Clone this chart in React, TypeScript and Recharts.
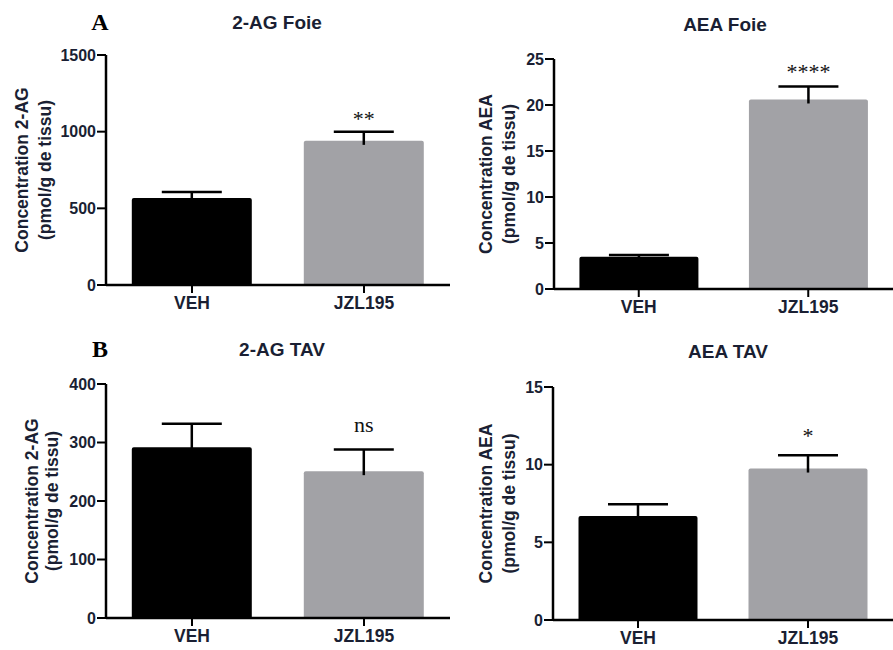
import { BarChart, Bar, XAxis, YAxis, Cell, LabelList, Label } from 'recharts'

// groups and measured values (mean, upper SEM)
const groups = ['VEH', 'JZL195']
const barColors = ['#000000', '#a2a2a6']

const ag2Foie = [567, 940]
const ag2FoieErr = [40, 60]
const ag2FoieSig = ['', '**']
const ag2FoieTicks = [0, 500, 1000, 1500]

const aeaFoie = [3.5, 20.6]
const aeaFoieErr = [0.2, 1.4]
const aeaFoieSig = ['', '****']
const aeaFoieTicks = [0, 5, 10, 15, 20, 25]

const ag2Tav = [292, 251]
const ag2TavErr = [40, 37]
const ag2TavSig = ['', 'ns']
const ag2TavTicks = [0, 100, 200, 300, 400]

const aeaTav = [6.7, 9.75]
const aeaTavErr = [0.75, 0.85]
const aeaTavSig = ['', '*']
const aeaTavTicks = [0, 5, 10, 15]

const sans = '"Liberation Sans", Arial, sans-serif'
const serif = '"Liberation Serif", "Times New Roman", serif'
const ink = '#1a1f33'

const toRows = (vals: number[], errs: number[], sigs: string[]) =>
  groups.map((g, i) => ({ group: g, value: vals[i], err: errs[i], sig: sigs[i] }))

type PanelProps = {
  left: number
  top: number
  width: number
  height: number
  marginTop: number
  yWidth: number
  xHeight: number
  rows: any[]
  ticks: number[]
  yLabel: string
  labelX: [number, number]
  sigOffset: number
}

function Panel(p: PanelProps) {
  const plotMid = (p.marginTop + (p.height - p.xHeight)) / 2
  const errShape = (props: any) => {
    const { x, y, width, height } = props
    const cx = x + width / 2
    return (
      <g>
        <line x1={cx} x2={cx} y1={y + height + 4} y2={y} stroke="#000" strokeWidth={2.5} />
        <line x1={cx - 30} x2={cx + 30} y1={y} y2={y} stroke="#000" strokeWidth={2.5} />
      </g>
    )
  }
  const sigLabel = (props: any) => {
    const { x, y, width, value } = props
    if (!value) return null
    return (
      <text x={x + width / 2} y={y - p.sigOffset} textAnchor="middle" fontFamily={serif} fontSize={22} fill="#111">
        {value}
      </text>
    )
  }
  const yTitle = () => (
    <g fontFamily={sans} fontWeight="bold" fontSize={17.5} fill={ink}>
      <text x={p.labelX[0]} y={plotMid} textAnchor="middle" dominantBaseline="central" transform={`rotate(-90 ${p.labelX[0]} ${plotMid})`}>
        {p.yLabel}
      </text>
      <text x={p.labelX[1]} y={plotMid} textAnchor="middle" dominantBaseline="central" transform={`rotate(-90 ${p.labelX[1]} ${plotMid})`}>
        (pmol/g de tissu)
      </text>
    </g>
  )
  return (
    <div style={{ position: 'absolute', left: p.left, top: p.top }}>
      <BarChart
        width={p.width}
        height={p.height}
        data={p.rows}
        margin={{ top: p.marginTop, right: 0, left: 0, bottom: 0 }}
        barCategoryGap="15%"
      >
        <XAxis
          dataKey="group"
          height={p.xHeight}
          axisLine={{ stroke: '#000', strokeWidth: 2.5 }}
          tickLine={{ stroke: '#000', strokeWidth: 2 }}
          tickSize={8}
          tickMargin={4}
          tick={{ fontFamily: sans, fontWeight: 'bold', fontSize: 17.5, fill: ink }}
        />
        <YAxis
          width={p.yWidth}
          domain={[p.ticks[0], p.ticks[p.ticks.length - 1]]}
          ticks={p.ticks}
          interval={0}
          axisLine={{ stroke: '#000', strokeWidth: 2.5 }}
          tickLine={{ stroke: '#000', strokeWidth: 2 }}
          tickSize={9}
          tickMargin={1}
          tick={{ fontFamily: sans, fontWeight: 'bold', fontSize: 16, fill: ink }}
        >
          <Label content={yTitle} />
        </YAxis>
        <Bar dataKey="value" stackId="s" isAnimationActive={false} radius={[2, 2, 0, 0]}>
          {p.rows.map((_, i) => (
            <Cell key={i} fill={barColors[i]} />
          ))}
        </Bar>
        <Bar dataKey="err" stackId="s" isAnimationActive={false} shape={errShape}>
          <LabelList dataKey="sig" content={sigLabel} />
        </Bar>
      </BarChart>
    </div>
  )
}

const titleStyle = (x: number, y: number): React.CSSProperties => ({
  position: 'absolute',
  left: x,
  top: y,
  transform: 'translate(-50%, -50%)',
  fontFamily: sans,
  fontWeight: 'bold',
  fontSize: 19,
  color: ink,
  whiteSpace: 'nowrap',
})

const letterStyle = (x: number, y: number): React.CSSProperties => ({
  position: 'absolute',
  left: x,
  top: y,
  transform: 'translate(-50%, -50%)',
  fontFamily: serif,
  fontWeight: 'bold',
  fontSize: 24,
  color: '#000',
})

export default function App() {
  return (
    <div style={{ position: 'absolute', left: 0, top: 0, width: 893, height: 650, background: '#fff' }}>
      <div style={letterStyle(100, 22)}>A</div>
      <div style={titleStyle(277, 23)}>2-AG Foie</div>
      <div style={titleStyle(725, 25)}>AEA Foie</div>
      <div style={letterStyle(100, 349)}>B</div>
      <div style={titleStyle(282, 350)}>2-AG TAV</div>
      <div style={titleStyle(728, 352)}>AEA TAV</div>

      <Panel
        left={0}
        top={0}
        width={450}
        height={320}
        marginTop={55}
        yWidth={106}
        xHeight={35}
        rows={toRows(ag2Foie, ag2FoieErr, ag2FoieSig)}
        ticks={ag2FoieTicks}
        yLabel="Concentration 2-AG"
        labelX={[22, 45]}
        sigOffset={6}
      />
      <Panel
        left={450}
        top={0}
        width={443}
        height={320}
        marginTop={59}
        yWidth={104}
        xHeight={31}
        rows={toRows(aeaFoie, aeaFoieErr, aeaFoieSig)}
        ticks={aeaFoieTicks}
        yLabel="Concentration AEA"
        labelX={[36, 59]}
        sigOffset={8}
      />
      <Panel
        left={0}
        top={320}
        width={450}
        height={330}
        marginTop={64}
        yWidth={106}
        xHeight={32}
        rows={toRows(ag2Tav, ag2TavErr, ag2TavSig)}
        ticks={ag2TavTicks}
        yLabel="Concentration 2-AG"
        labelX={[32, 52]}
        sigOffset={18}
      />
      <Panel
        left={450}
        top={320}
        width={443}
        height={330}
        marginTop={67}
        yWidth={103}
        xHeight={30}
        rows={toRows(aeaTav, aeaTavErr, aeaTavSig)}
        ticks={aeaTavTicks}
        yLabel="Concentration AEA"
        labelX={[36, 59]}
        sigOffset={12}
      />
    </div>
  )
}
